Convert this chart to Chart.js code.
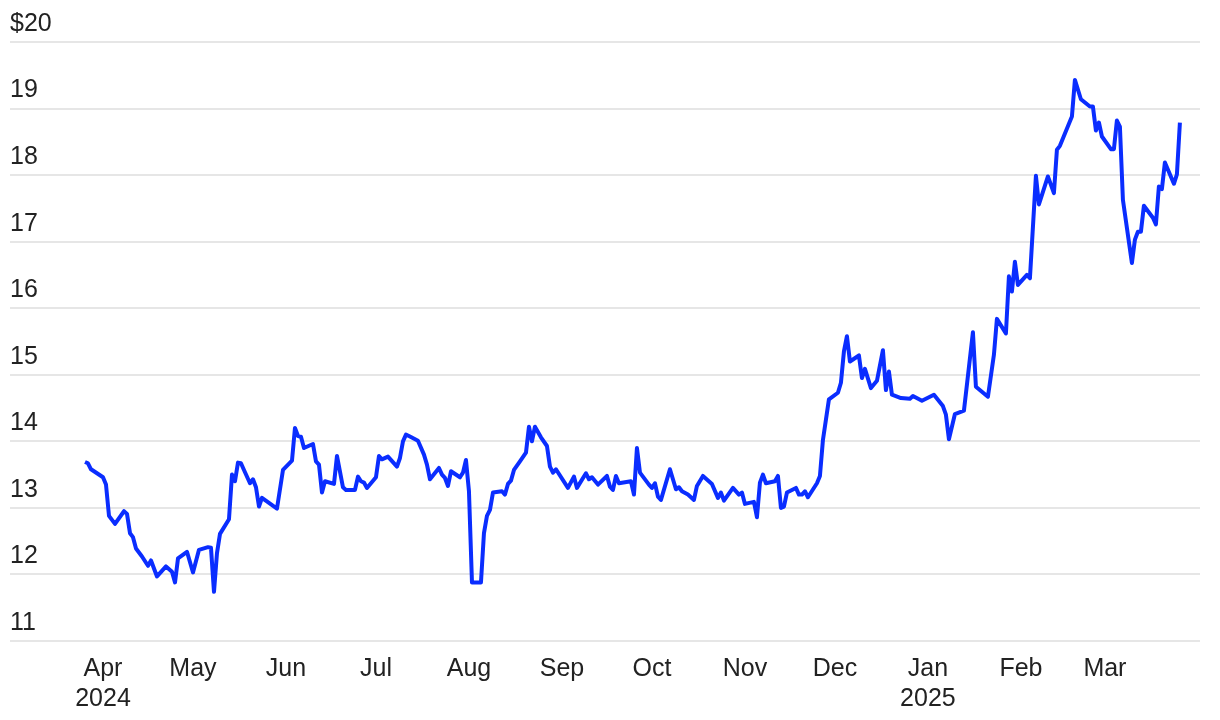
<!DOCTYPE html>
<html>
<head>
<meta charset="utf-8">
<script src="https://cdn.jsdelivr.net/npm/chart.js@4.4.1/dist/chart.umd.min.js"></script>
<style>
  html, body { margin: 0; padding: 0; background: #fff; }
  #wrap { width: 1220px; height: 720px; position: relative; }
</style>
</head>
<body>
<div id="wrap"><canvas id="priceChart"></canvas></div>
<script>
// Daily closing price (approx.)
const dates = [
  '2024-03-26','2024-03-27','2024-03-28','2024-04-01','2024-04-02','2024-04-03','2024-04-05','2024-04-08',
  '2024-04-09','2024-04-10','2024-04-11','2024-04-12','2024-04-14','2024-04-16','2024-04-17','2024-04-19',
  '2024-04-22','2024-04-24','2024-04-25','2024-04-26','2024-04-29','2024-05-01','2024-05-03','2024-05-06',
  '2024-05-07','2024-05-08','2024-05-09','2024-05-10','2024-05-13','2024-05-14','2024-05-15','2024-05-16',
  '2024-05-17','2024-05-18','2024-05-20','2024-05-21','2024-05-22','2024-05-23','2024-05-24','2024-05-29',
  '2024-05-31','2024-06-03','2024-06-04','2024-06-05','2024-06-06','2024-06-07','2024-06-10','2024-06-11',
  '2024-06-12','2024-06-13','2024-06-14','2024-06-17','2024-06-18','2024-06-20','2024-06-21','2024-06-24',
  '2024-06-25','2024-06-26','2024-06-27','2024-06-28','2024-07-01','2024-07-02','2024-07-03','2024-07-05',
  '2024-07-08','2024-07-09','2024-07-10','2024-07-11','2024-07-12','2024-07-15','2024-07-17','2024-07-18',
  '2024-07-19','2024-07-22','2024-07-23','2024-07-24','2024-07-25','2024-07-26','2024-07-29','2024-07-30',
  '2024-07-31','2024-08-01','2024-08-02','2024-08-05','2024-08-06','2024-08-07','2024-08-08','2024-08-09',
  '2024-08-12','2024-08-13','2024-08-14','2024-08-15','2024-08-16','2024-08-18','2024-08-20','2024-08-21',
  '2024-08-22','2024-08-23','2024-08-25','2024-08-27','2024-08-28','2024-08-29','2024-08-30','2024-09-03',
  '2024-09-05','2024-09-06','2024-09-09','2024-09-10','2024-09-11','2024-09-13','2024-09-16','2024-09-17',
  '2024-09-18','2024-09-19','2024-09-20','2024-09-24','2024-09-25','2024-09-26','2024-09-27','2024-09-30',
  '2024-10-01','2024-10-02','2024-10-03','2024-10-04','2024-10-07','2024-10-09','2024-10-10','2024-10-11',
  '2024-10-13','2024-10-15','2024-10-16','2024-10-18','2024-10-21','2024-10-23','2024-10-24','2024-10-25',
  '2024-10-28','2024-10-30','2024-10-31','2024-11-01','2024-11-04','2024-11-05','2024-11-06','2024-11-07',
  '2024-11-08','2024-11-11','2024-11-12','2024-11-13','2024-11-14','2024-11-15','2024-11-18','2024-11-19',
  '2024-11-20','2024-11-21','2024-11-22','2024-11-25','2024-11-26','2024-11-27','2024-11-29','2024-12-02',
  '2024-12-03','2024-12-04','2024-12-05','2024-12-06','2024-12-09','2024-12-10','2024-12-11','2024-12-13',
  '2024-12-15','2024-12-17','2024-12-18','2024-12-19','2024-12-20','2024-12-23','2024-12-26','2024-12-27',
  '2024-12-30','2025-01-03','2025-01-06','2025-01-07','2025-01-08','2025-01-10','2025-01-13','2025-01-14',
  '2025-01-16','2025-01-17','2025-01-21','2025-01-23','2025-01-24','2025-01-27','2025-01-28','2025-01-29',
  '2025-01-30','2025-01-31','2025-02-03','2025-02-04','2025-02-06','2025-02-07','2025-02-10','2025-02-12',
  '2025-02-13','2025-02-14','2025-02-18','2025-02-19','2025-02-21','2025-02-24','2025-02-25','2025-02-26',
  '2025-02-27','2025-02-28','2025-03-03','2025-03-04','2025-03-05','2025-03-06','2025-03-07','2025-03-10',
  '2025-03-11','2025-03-12','2025-03-13','2025-03-14','2025-03-17','2025-03-18','2025-03-19','2025-03-20',
  '2025-03-21','2025-03-24','2025-03-25','2025-03-26'
];
const prices = [
  13.69, 13.67, 13.58, 13.46, 13.35, 12.88, 12.76, 12.95,
  12.91, 12.62, 12.56, 12.39, 12.27, 12.13, 12.21, 11.97,
  12.12, 12.04, 11.88, 12.24, 12.34, 12.03, 12.37, 12.41,
  12.40, 11.74, 12.32, 12.61, 12.83, 13.50, 13.40, 13.68,
  13.67, 13.57, 13.37, 13.43, 13.31, 13.02, 13.15, 12.99,
  13.57, 13.71, 14.20, 14.08, 14.07, 13.90, 13.96, 13.70,
  13.65, 13.23, 13.40, 13.36, 13.78, 13.31, 13.27, 13.27,
  13.47, 13.40, 13.38, 13.30, 13.46, 13.78, 13.73, 13.77,
  13.62, 13.75, 14.00, 14.10, 14.08, 14.01, 13.80, 13.65,
  13.43, 13.60, 13.50, 13.45, 13.33, 13.55, 13.46, 13.53,
  13.72, 13.25, 11.88, 11.88, 12.62, 12.88, 12.97, 13.23,
  13.25, 13.20, 13.36, 13.41, 13.57, 13.70, 13.83, 14.22,
  14.00, 14.22, 14.06, 13.93, 13.62, 13.53, 13.58, 13.30,
  13.47, 13.30, 13.52, 13.43, 13.46, 13.35, 13.48, 13.32,
  13.27, 13.48, 13.37, 13.40, 13.20, 13.90, 13.53, 13.35,
  13.30, 13.37, 13.17, 13.12, 13.58, 13.28, 13.31, 13.25,
  13.20, 13.12, 13.33, 13.48, 13.36, 13.15, 13.23, 13.11,
  13.30, 13.20, 13.23, 13.06, 13.09, 12.86, 13.38, 13.50,
  13.37, 13.40, 13.48, 13.00, 13.02, 13.23, 13.30, 13.20,
  13.20, 13.25, 13.16, 13.37, 13.48, 14.02, 14.63, 14.73,
  14.88, 15.35, 15.58, 15.20, 15.29, 14.95, 15.09, 14.80,
  14.91, 15.37, 14.77, 15.05, 14.70, 14.65, 14.64, 14.68,
  14.61, 14.70, 14.53, 14.40, 14.03, 14.41, 14.46, 14.85,
  15.64, 14.82, 14.67, 15.30, 15.84, 15.62, 16.48, 16.25,
  16.70, 16.35, 16.50, 16.45, 17.99, 17.56, 17.98, 17.73,
  18.38, 18.44, 18.88, 19.43, 19.14, 19.03, 19.03, 18.67,
  18.79, 18.58, 18.39, 18.39, 18.82, 18.73, 17.63, 16.68,
  17.03, 17.15, 17.15, 17.54, 17.36, 17.26, 17.83, 17.79,
  18.19, 17.87, 18.01, 18.79
];

// x-axis ticks (month starts)
const monthTicks = ['2024-04-01','2024-05-01','2024-06-01','2024-07-01','2024-08-01','2024-09-01',
  '2024-10-01','2024-11-01','2024-12-01','2025-01-01','2025-02-01','2025-03-01'];
const monthLabels = [['Apr','2024'],'May','Jun','Jul','Aug','Sep','Oct','Nov','Dec',['Jan','2025'],'Feb','Mar'];

// y-axis ticks
const yTicks = [11, 12, 13, 14, 15, 16, 17, 18, 19, 20];

// days since 2024-04-01 (no date adapter offline, so use a linear axis)
function dayOf(s) {
  const p = s.split('-').map(Number);
  return (Date.UTC(p[0], p[1] - 1, p[2]) - Date.UTC(2024, 3, 1)) / 86400000;
}

const points = dates.map((d, i) => ({ x: dayOf(d), y: prices[i] }));
const font = { family: '"Liberation Sans", Arial, sans-serif', size: 25, lineHeight: 1.2 };

const ctx = document.getElementById('priceChart').getContext('2d');
new Chart(ctx, {
  type: 'line',
  data: {
    datasets: [{
      data: points,
      borderColor: '#0a2dff',
      borderWidth: 4,
      borderJoinStyle: 'round',
      pointRadius: 0,
      tension: 0,
      fill: false,
    }],
  },
  options: {
    responsive: true,
    maintainAspectRatio: false,
    animation: false,
    layout: { padding: { top: 42, right: 20, bottom: 0, left: 10 } },
    plugins: {
      legend: { display: false },
      tooltip: { enabled: false },
    },
    scales: {
      x: {
        type: 'linear',
        min: dayOf('2024-03-01'),
        max: dayOf('2025-04-01') + 0.7,
        grid: { display: false, drawTicks: false },
        border: { display: false },
        afterBuildTicks: scale => {
          scale.ticks = monthTicks.map(d => ({ value: dayOf(d) }));
        },
        afterFit: scale => {
          scale.height = 79; // chart area ends at y≈641
        },
        ticks: {
          autoSkip: false,
          maxRotation: 0,
          padding: 13,
          color: '#222',
          font: font,
          callback: (value, index) => monthLabels[index],
        },
      },
      y: {
        min: 11,
        max: 20,
        grid: { color: '#e6e6e6', lineWidth: 2, drawTicks: false },
        border: { display: false },
        afterBuildTicks: scale => {
          scale.ticks = yTicks.map(v => ({ value: v }));
        },
        ticks: {
          mirror: true,
          padding: 0,
          labelOffset: -18,
          color: '#222',
          font: font,
          callback: v => (v === 20 ? '$' + v : v),
        },
      },
    },
  },
});
</script>
</body>
</html>
